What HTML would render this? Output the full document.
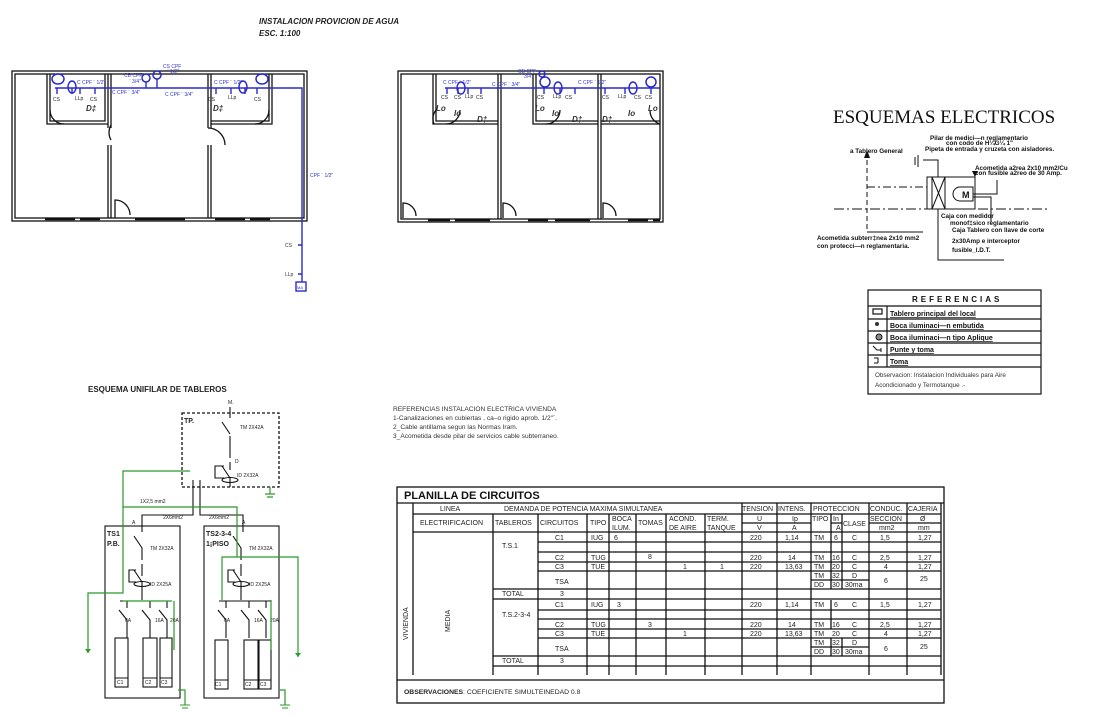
<!DOCTYPE html>
<html><head><meta charset="utf-8"><style>
html,body{margin:0;padding:0;background:#fff;}
svg{display:block;font-family:"Liberation Sans",sans-serif;}
.t{font-size:7px;fill:#222}
.s{font-size:5px;fill:#3030d0}
.g{font-size:5px;fill:#222}
.b{font-weight:bold}
</style></head><body>
<svg width="1095" height="718" viewBox="0 0 1095 718" xmlns="http://www.w3.org/2000/svg">
<rect width="1095" height="718" fill="#fff"/>
<text x="259" y="24" font-size="8" font-weight="bold" font-style="italic" fill="#222">INSTALACION PROVICION DE AGUA</text>
<text x="259" y="36" font-size="8" font-weight="bold" font-style="italic" fill="#222">ESC. 1:100</text>

<!-- LEFT PLAN -->
<g fill="none" stroke="#111" stroke-width="1.3">
<rect x="12" y="71" width="295" height="150"/>
<rect x="15" y="74" width="289" height="144"/>
<path d="M47,74 V124 H108 M50,74 V121 H105 V74"/>
<path d="M108,74 V128 M111,74 V128 M108,145 V218 M111,145 V218"/>
<path d="M208,74 V128 M211,74 V128 M208,145 V218 M211,145 V218"/>
<path d="M211,124 H272 V74 M211,121 H269 V74"/>
<path d="M111,140 a15,15 0 0 1 0,-15 M208,128 a17,17 0 0 1 17,17 M50,110 a14,14 0 0 0 14,14 M269,110 a14,14 0 0 1 -14,14"/>
<path d="M115,218 V200 a15,15 0 0 1 15,15"/>
</g>
<g stroke="#111" stroke-width="2.5"><path d="M45,219 H75 M80,219 H100 M135,219 H185 M215,219 H245 M250,219 H270"/></g>
<g fill="none" stroke="#2a2acc" stroke-width="1.5">
<ellipse cx="58" cy="79" rx="6" ry="5"/><ellipse cx="72" cy="87" rx="4" ry="6"/>
<ellipse cx="243" cy="87" rx="4" ry="6"/><ellipse cx="262" cy="79" rx="6" ry="5"/>
<circle cx="146" cy="78" r="4"/><circle cx="157" cy="75" r="4"/>
</g>
<g stroke="#2a2acc" stroke-width="1.4" fill="none">
<path d="M55,88 H302 V282"/><path d="M146,82 V88 M157,79 V88"/>
<path d="M57,88 V94 M72,88 V94 M80,88 V94 M95,88 V94 M216,88 V94 M231,88 V94 M245,88 V94 M257,88 V94"/>
<path d="M298,245 H302 M298,274 H302"/>
<rect x="296" y="282" width="10" height="9"/>
</g>
<g class="s">
<text x="77" y="84">C CPF ¨ 1/2"</text><text x="112" y="94">C CPF ¨ 3/4"</text>
<text x="124" y="77">CB CPF</text><text x="129" y="83">¨ 3/4"</text>
<text x="163" y="68">CS CPF</text><text x="167" y="73">¨ 1/2"</text>
<text x="165" y="96">C CPF ¨ 3/4"</text><text x="214" y="84">C CPF ¨ 1/2"</text>
<text x="310" y="177">CPF ¨ 1/2"</text>
<text x="285" y="247" fill="#333">CS</text><text x="285" y="276" fill="#333">LLp</text>
<text x="297" y="289" font-size="4">MA</text>
</g>
<g class="g"><text x="53" y="101">CS</text><text x="75" y="100">LLp</text><text x="90" y="101">CS</text>
<text x="208" y="101">CS</text><text x="228" y="99">LLp</text><text x="254" y="101">CS</text></g>
<text x="86" y="111" font-size="8" font-style="italic" font-weight="bold" fill="#333">D‡</text>
<text x="213" y="111" font-size="8" font-style="italic" font-weight="bold" fill="#333">D‡</text>

<!-- RIGHT PLAN -->
<g fill="none" stroke="#111" stroke-width="1.3">
<rect x="398" y="71" width="265" height="151"/>
<rect x="401" y="74" width="259" height="145"/>
<path d="M498,74 V219 M501,74 V219 M598,74 V219 M601,74 V219"/>
<path d="M433,74 V124 H498 M436,74 V121 H498"/>
<path d="M533,74 V124 H598 M536,74 V121 H598"/>
<path d="M601,124 H660 M601,121 H660"/>
<path d="M436,110 a14,14 0 0 0 -2,14 M460,110 a14,14 0 0 1 -14,14 M560,110 a14,14 0 0 1 -14,14 M650,110 a14,14 0 0 0 10,14"/>
<path d="M403,218 V203 a13,13 0 0 1 13,13 M503,218 V203 a13,13 0 0 1 13,13 M603,218 V203 a13,13 0 0 1 13,13"/>
</g>
<g stroke="#111" stroke-width="2.5"><path d="M428,220 H450 M455,220 H490 M528,220 H548 M555,220 H590 M628,220 H648 M653,220 H660"/></g>
<g fill="none" stroke="#2a2acc" stroke-width="1.5">
<ellipse cx="461" cy="88" rx="4" ry="6"/><ellipse cx="545" cy="82" rx="5" ry="5"/><ellipse cx="558" cy="88" rx="4" ry="6"/>
<ellipse cx="633" cy="88" rx="4" ry="6"/><ellipse cx="651" cy="82" rx="5" ry="5"/><circle cx="542" cy="74" r="3"/>
</g>
<g stroke="#2a2acc" stroke-width="1.4"><path d="M445,88 H660 M447,88 V94 M458,88 V94 M468,88 V94 M481,88 V94 M544,88 V94 M560,88 V94 M575,88 V94 M605,88 V94 M625,88 V94 M651,88 V94"/></g>
<g class="s"><text x="443" y="84">C CPF ¨ 1/2"</text><text x="492" y="86">C CPF ¨ 3/4"</text>
<text x="518" y="73">CB CPF</text><text x="521" y="78">¨ 3/4"</text><text x="578" y="84">C CPF ¨ 1/2"</text></g>
<g class="g"><text x="441" y="99">CS</text><text x="454" y="99">CS</text><text x="465" y="98">LLp</text><text x="476" y="99">CS</text>
<text x="537" y="99">CS</text><text x="553" y="98">LLp</text><text x="565" y="99">CS</text>
<text x="602" y="99">CS</text><text x="618" y="98">LLp</text><text x="634" y="99">CS</text><text x="645" y="99">CS</text></g>
<g font-size="8" font-style="italic" font-weight="bold" fill="#333">
<text x="436" y="111">Lo</text><text x="454" y="116">Io</text><text x="477" y="122">D‡</text>
<text x="535" y="111">Lo</text><text x="552" y="116">Io</text><text x="572" y="122">D‡</text>
<text x="602" y="122">D‡</text><text x="628" y="116">Io</text><text x="648" y="111">Lo</text></g>

<!-- ESQUEMAS ELECTRICOS -->
<text x="833" y="123" font-family="Liberation Serif,serif" font-size="19" fill="#111">ESQUEMAS ELECTRICOS</text>
<g font-size="6.3" font-weight="bold" fill="#111">
<text x="930" y="140">Pilar de medici—n reglamentario</text><text x="946" y="145">con codo de H¼G¼ 1"</text>
<text x="925" y="151">Pipeta de entrada y cruzeta con aisladores.</text>
<text x="850" y="153">a Tablero General</text>
<text x="975" y="170">Acometida a2rea 2x10 mm2/Cu</text><text x="975" y="175">con fusible a2reo de 30 Amp.</text>
<text x="941" y="218">Caja con medidor</text><text x="950" y="225">monof‡sico reglamentario</text>
<text x="952" y="232">Caja Tablero con llave de corte</text><text x="952" y="243">2x30Amp e interceptor</text><text x="952" y="252">fusible_I.D.T.</text>
<text x="817" y="240">Acometida subterr‡nea 2x10 mm2</text><text x="817" y="248">con protecci—n reglamentaria.</text>
</g>
<g fill="none" stroke="#111" stroke-width="1">
<path d="M867,160 V232" stroke-dasharray="5,3"/>
<path d="M867,187 H927" stroke-dasharray="8,3,2,3"/>
<path d="M834,209 H1050" stroke-dasharray="10,3,2,3"/>
<rect x="927" y="177" width="48" height="32"/><rect x="932" y="177" width="13" height="32"/>
<path d="M932,177 L945,209 M945,177 L932,209"/>
<path d="M960,187 H973 V201 H960 a7,7 0 0 1 0,-14"/>
<path d="M938,177 V160 H923 M915,157 V165 M918,155 V167"/>
<path d="M973,194 H997 V180 M973,197 H991 V222 M938,209 V260 H1004 M867,232 H923"/>
</g>
<path d="M867,150 l-3,8 h6 z M975,177 l-3,-6 h6 z" fill="#111"/>
<text x="962" y="198" font-size="9" font-weight="bold" fill="#111">M</text>

<!-- REFERENCIAS box -->
<g fill="none" stroke="#111" stroke-width="1.2">
<rect x="868" y="290" width="173" height="104"/>
<path d="M868,306 H1041 M868,319 H1041 M868,331 H1041 M868,343 H1041 M868,355 H1041 M868,367 H1041 M887,306 V367"/>
<rect x="873" y="309" width="9" height="5"/>
</g>
<text x="912" y="302" font-size="8" font-weight="bold" letter-spacing="3" fill="#111">REFERENCIAS</text>
<g font-size="7" font-weight="bold" fill="#111" text-decoration="underline">
<text x="890" y="316">Tablero principal del local</text><text x="890" y="328">Boca iluminaci—n embutida</text>
<text x="890" y="340">Boca iluminaci—n tipo Aplique</text><text x="890" y="352">Punte y toma</text><text x="890" y="364">Toma</text></g>
<circle cx="877" cy="324" r="2" fill="#333"/><circle cx="879" cy="337" r="3" fill="#888" stroke="#111"/>
<path d="M873,346 L877,350 H881 M881,348 V352 M874,358 H878 V363 M874,363 H878" stroke="#111" fill="none"/>
<text x="875" y="377" font-size="6.3" fill="#333">Observacion: Instalacion Individuales para Aire</text>
<text x="875" y="387" font-size="6.3" fill="#333">Acondicionado y Termotanque .-</text>

<!-- Notes -->
<g font-size="6.6" fill="#333">
<text x="393" y="411">REFERENCIAS INSTALACION ELECTRICA VIVIENDA</text>
<text x="393" y="420">1-Canalizaciones en cubiertas , ca–o rigido aprob. 1/2"¨.</text>
<text x="393" y="429">2_Cable antillama segun las Normas Iram.</text>
<text x="393" y="438">3_Acometida desde pilar de servicios cable subterraneo.</text></g>

<!-- UNIFILAR -->
<text x="88" y="392" font-size="8" font-weight="bold" fill="#222">ESQUEMA UNIFILAR DE TABLEROS</text>
<g class="g">
<text x="228" y="404">M.</text><text x="184" y="423" font-size="7" font-weight="bold">TP.</text>
<text x="240" y="429">TM 2X42A</text><text x="235" y="463">D</text><text x="237" y="477">ID 2X32A</text>
<text x="140" y="503">1X2,5 mm2</text><text x="163" y="519">2X6mm2</text><text x="209" y="519">2X6mm2</text>
<text x="107" y="536" font-size="7" font-weight="bold">TS1</text><text x="107" y="546" font-size="7" font-weight="bold">P.B.</text>
<text x="206" y="536" font-size="7" font-weight="bold">TS2-3-4</text><text x="206" y="546" font-size="7" font-weight="bold">1¡PISO</text>
<text x="150" y="550">TM 2X32A</text><text x="249" y="550">TM 2X32A</text>
<text x="150" y="586">ID 2X25A</text><text x="249" y="586">ID 2X25A</text>
<text x="132" y="524">A</text><text x="242" y="524">A</text>
<text x="125" y="622">6A</text><text x="155" y="622">16A</text><text x="170" y="622">20A</text>
<text x="224" y="622">6A</text><text x="254" y="622">16A</text><text x="270" y="622">20A</text>
<text x="117" y="684">C1</text><text x="145" y="684">C2</text><text x="161" y="684">C3</text>
<text x="215" y="686">C1</text><text x="245" y="686">C2</text><text x="260" y="686">C3</text>
</g>
<g fill="none" stroke="#111" stroke-width="1.1">
<rect x="182" y="413" width="97" height="74" stroke-dasharray="3,2" stroke-width="1.3"/>
<path d="M230,407 V418 M222,422 L230,434 M230,436 V458 M230,462 V470 M222,466 L230,478 V487"/>
<path d="M224,466 H215 V478 H224"/><ellipse cx="230" cy="480" rx="8" ry="2.5"/>
<path d="M193,480 V515 H142 V532 M200,480 V515 H243 V532"/>
<rect x="105" y="526" width="75" height="172"/><rect x="204" y="526" width="75" height="172"/>
<path d="M134,536 L142,548 V560 M142,564 V576 M134,570 L142,582 V600 M136,570 H129 V582 H136"/><ellipse cx="142" cy="584" rx="8" ry="2.5"/>
<path d="M233,536 L241,548 V560 M241,564 V576 M233,570 L241,582 V600 M235,570 H228 V582 H235"/><ellipse cx="241" cy="584" rx="8" ry="2.5"/>
<path d="M120,601 H172 M219,601 H271"/>
<path d="M127,601 V608 M119,610 L127,620 V638 M150,601 V608 M142,610 L150,620 V638 M167,601 V608 M159,610 L167,620 V638"/>
<path d="M226,601 V608 M218,610 L226,620 V638 M249,601 V608 M241,610 L249,620 V638 M266,601 V608 M258,610 L266,620 V638"/>
<rect x="115" y="638" width="13" height="49"/><rect x="143" y="638" width="14" height="49"/><rect x="160" y="638" width="12" height="49"/>
<rect x="215" y="640" width="13" height="49"/><rect x="244" y="640" width="14" height="49"/><rect x="259" y="640" width="12" height="49"/>
<path d="M115,678 H128 M143,678 H157 M160,678 H172 M215,680 H228 M244,680 H258 M259,680 H271"/>
</g>
<g fill="none" stroke="#2a9a2a" stroke-width="1.2">
<path d="M190,471 H123 V593 H88 V653 M123,507 H237 V557 H298 V657 M123,601 H172 M237,557 H222 V600 M174,601 V650 M271,600 V650"/>
<path d="M270,487 V494 M265,494 H275 M267,497 H273 M178,690 H185 V705 M280,690 H285 V705"/>
</g>
<path d="M88,653 l-3,-4 h6z M298,657 l-3,-4 h6z" fill="#2a9a2a"/>
<path d="M180,705 H190 M182,708 H188 M280,705 H290 M282,708 H288" stroke="#2a9a2a"/>

<!-- PLANILLA -->
<g fill="none" stroke="#111" stroke-width="1.3">
<rect x="397" y="487" width="547" height="216"/>
<path d="M397,503 H944 M413,514 H941 M742,523 H811 M831,523 H842 M869,523 H941 M413,532 H941"/>
<path d="M413,503 V675 M493,514 V675 M538,514 V675 M587,514 V675 M609,514 V675 M636,514 V675 M666,514 V675 M705,514 V675 M742,503 V675 M777,503 V675 M811,503 V675 M831,514 V589 M831,638 V656 M842,514 V589 M842,638 V656 M869,503 V675 M907,503 V675 M941,503 V675 M831,532 V562 M831,600 V629"/>
<path d="M538,542 H941 M538,552 H941 M538,562 H941 M538,571 H941 M811,580 H869 M493,589 H941 M493,599 H941 M538,610 H941 M538,619 H941 M538,629 H941 M538,638 H941 M811,647 H869 M493,656 H941 M493,666 H941 M397,680 H944"/>
</g>
<text x="404" y="499" font-size="11" font-weight="bold" fill="#111">PLANILLA DE CIRCUITOS</text>
<g class="t" font-size="6.5">
<text x="440" y="511">LINEA</text><text x="504" y="511">DEMANDA DE POTENCIA MAXIMA SIMULTANEA</text>
<text x="742" y="511">TENSION</text><text x="778" y="511">INTENS.</text><text x="813" y="511">PROTECCION</text><text x="870" y="511">CONDUC.</text><text x="908" y="511">CAJERIA</text>
<text x="420" y="525">ELECTRIFICACION</text><text x="495" y="525">TABLEROS</text><text x="540" y="525">CIRCUITOS</text><text x="590" y="525">TIPO</text>
<text x="612" y="521">BOCA</text><text x="612" y="530">ILUM.</text><text x="638" y="525">TOMAS</text>
<text x="669" y="521">ACOND.</text><text x="669" y="530">DE AIRE</text><text x="707" y="521">TERM.</text><text x="707" y="530">TANQUE</text>
<text x="757" y="521">U</text><text x="757" y="530">V</text><text x="792" y="521">Ip</text><text x="792" y="530">A</text>
<text x="812" y="521">TIPO</text><text x="833" y="521">In</text><text x="836" y="530">A</text><text x="843" y="526">CLASE</text>
<text x="870" y="521">SECCION</text><text x="879" y="530">mm2</text><text x="920" y="521">Ø</text><text x="918" y="530">mm</text>
<text transform="translate(408,640) rotate(-90)">VIVIENDA</text><text transform="translate(450,632) rotate(-90)">MEDIA</text>
<text x="502" y="548">T.S.1</text><text x="502" y="596">TOTAL</text><text x="560" y="596">3</text>
<text x="502" y="617">T.S.2-3-4</text><text x="502" y="663">TOTAL</text><text x="560" y="663">3</text>
<text x="555" y="540">C1</text><text x="591" y="540">IUG</text><text x="614" y="540">6</text><text x="750" y="540">220</text><text x="785" y="540">1,14</text><text x="814" y="540">TM</text><text x="834" y="540">6</text><text x="852" y="540">C</text><text x="880" y="540">1,5</text><text x="918" y="540">1,27</text>
<text x="555" y="560">C2</text><text x="591" y="560">TUG</text><text x="648" y="559">8</text><text x="750" y="560">220</text><text x="788" y="560">14</text><text x="814" y="560">TM</text><text x="832" y="560">16</text><text x="852" y="560">C</text><text x="880" y="560">2,5</text><text x="918" y="560">1,27</text>
<text x="555" y="569">C3</text><text x="591" y="569">TUE</text><text x="683" y="569">1</text><text x="720" y="569">1</text><text x="750" y="569">220</text><text x="785" y="569">13,63</text><text x="814" y="569">TM</text><text x="832" y="569">20</text><text x="852" y="569">C</text><text x="884" y="569">4</text><text x="918" y="569">1,27</text>
<text x="555" y="584">TSA</text><text x="814" y="578">TM</text><text x="832" y="578">32</text><text x="852" y="578">D</text><text x="814" y="587">DD</text><text x="832" y="587">30</text><text x="845" y="587">30ma</text><text x="884" y="583">6</text><text x="920" y="581">25</text>
<text x="555" y="607">C1</text><text x="591" y="607">IUG</text><text x="617" y="607">3</text><text x="750" y="607">220</text><text x="785" y="607">1,14</text><text x="814" y="607">TM</text><text x="834" y="607">6</text><text x="852" y="607">C</text><text x="880" y="607">1,5</text><text x="918" y="607">1,27</text>
<text x="555" y="627">C2</text><text x="591" y="627">TUG</text><text x="648" y="627">3</text><text x="750" y="627">220</text><text x="788" y="627">14</text><text x="814" y="627">TM</text><text x="832" y="627">16</text><text x="852" y="627">C</text><text x="880" y="627">2,5</text><text x="918" y="627">1,27</text>
<text x="555" y="636">C3</text><text x="591" y="636">TUE</text><text x="683" y="636">1</text><text x="750" y="636">220</text><text x="785" y="636">13,63</text><text x="814" y="636">TM</text><text x="832" y="636">20</text><text x="852" y="636">C</text><text x="884" y="636">4</text><text x="918" y="636">1,27</text>
<text x="555" y="651">TSA</text><text x="814" y="645">TM</text><text x="832" y="645">32</text><text x="852" y="645">D</text><text x="814" y="654">DD</text><text x="832" y="654">30</text><text x="845" y="654">30ma</text><text x="884" y="651">6</text><text x="920" y="649">25</text>
</g>
<text x="404" y="694" font-size="6.8" fill="#222"><tspan font-weight="bold">OBSERVACIONES</tspan>:  COEFICIENTE SIMULTEINEDAD 0.8</text>
</svg>
</body></html>
